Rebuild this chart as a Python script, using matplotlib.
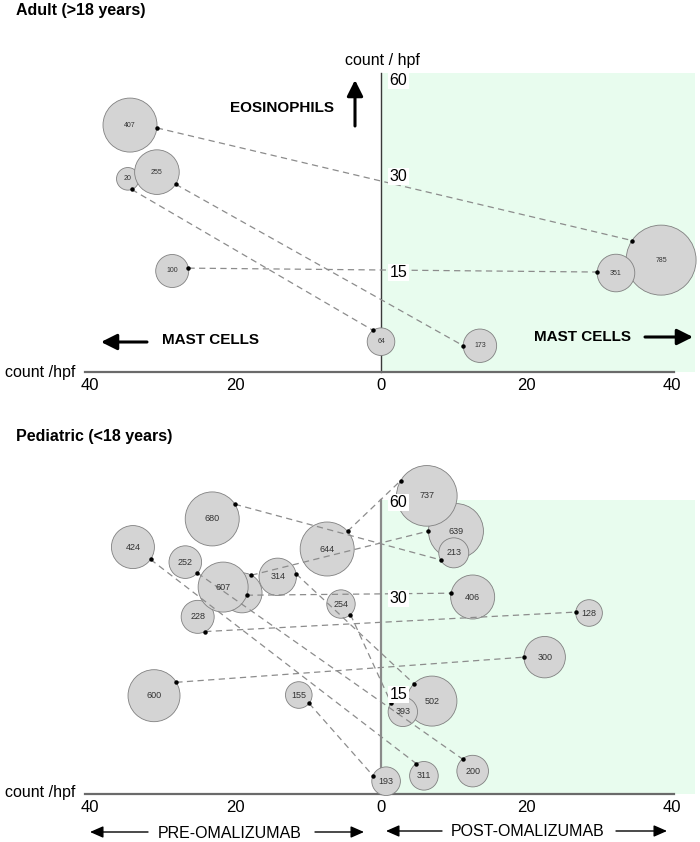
import numpy as np
import matplotlib
matplotlib.use('Agg')
import matplotlib.pyplot as plt

plt.rcParams['font.family'] = ['Liberation Sans', 'DejaVu Sans']

# ---- data: each patient = one pre bubble (left) linked to one post bubble (right)
# mast cells / hpf (x), eosinophils / hpf (y), number printed in the bubble
adult_pre_label = [407, 20, 255, 100]
adult_pre_mast = [34.5, 34.8, 30.8, 28.7]
adult_pre_eos = [45.6, 29.4, 30.9, 15.0]
adult_post_label = [785, 64, 173, 351]
adult_post_mast = [38.5, 0.0, 13.6, 32.3]
adult_post_eos = [16.7, 4.5, 3.9, 14.7]

ped_pre_label = [None, 228, 607, 644, 680, 314, 254, 424, 252, 600, 155]
ped_pre_mast = [19.1, 25.2, 21.7, 7.4, 23.2, 14.2, 5.5, 34.1, 26.9, 31.2, 11.3]
ped_pre_eos = [31.3, 26.9, 33.1, 45.0, 54.4, 36.3, 28.9, 45.6, 40.9, 14.6, 14.7]
ped_post_label = [639, 128, 406, 737, 213, 502, 393, 311, 200, 300, 193]
ped_post_mast = [10.3, 28.6, 12.6, 6.3, 10.0, 7.0, 3.0, 5.9, 12.6, 22.5, 0.7]
ped_post_eos = [50.6, 27.5, 30.0, 61.6, 43.8, 13.8, 12.2, 2.7, 3.4, 20.6, 1.9]

# bubble radius (px) and where on the rim the link line starts (deg)
adult_pre_r = [27, 11.3, 22.3, 16.5]
adult_post_r = [35, 13.8, 16.7, 18.8]
adult_pre_ang = [-6, -70, -33, 10]
adult_post_ang = [146, 125, 180, 177]
ped_pre_r = [20, 16.5, 25, 27, 27, 18.7, 14.2, 21.5, 16.3, 26, 13.3]
ped_post_r = [27.5, 13.3, 22, 30.3, 15, 25, 14.7, 14.3, 15.8, 20.7, 14.3]
ped_pre_ang = [62, -63, -19, 41, 33, 9, -48, -35, -42, 31, -39]
ped_post_ang = [180, 176, 170, 150, 208, 136, 143, 122, 130, 180, 157]

# ---- layout
W, H = 700, 842
X0, PX_PER = 381, 7.275          # pixel of x=0, pixels per count
Y_KNOTS = [-15, 0, 15, 30, 60, 120]
P_KNOTS = [-101, 0, 101, 197, 293, 485]


def fwd(y):
    return np.interp(y, Y_KNOTS, P_KNOTS)


def inv(p):
    return np.interp(p, P_KNOTS, Y_KNOTS)


def fxy(x, y):
    return (x / W, 1 - y / H)


def rim(ax, xs, ys, rs, angs):
    cen = ax.transData.transform(np.column_stack([xs, ys]))
    a = np.radians(angs)
    pts = cen + np.column_stack([np.cos(a), np.sin(a)]) * np.asarray(rs)[:, None]
    return ax.transData.inverted().transform(pts)


fig = plt.figure(figsize=(W / 100, H / 100), dpi=100)


def panel(top, bot, base, ytop, vcol, vlw, fs, pre, post):
    ax = fig.add_axes([0, 1 - bot / H, 1, (bot - top) / H])
    ax.set_yscale('function', functions=(fwd, inv))
    ax.set_xlim(-X0 / PX_PER, (W - X0) / PX_PER)
    ax.set_ylim(inv(base - bot), inv(base - top))
    ax.patch.set_alpha(0)

    for s in ['left', 'top']:
        ax.spines[s].set_visible(False)
    ax.spines['bottom'].set_position(('data', 0))
    ax.spines['bottom'].set_bounds(-40.7, 40.3)
    ax.spines['bottom'].set_color('#6a6a6a')
    ax.spines['bottom'].set_linewidth(1.6)
    ax.spines['right'].set_position(('data', 0))
    ax.spines['right'].set_bounds(0, ytop)
    ax.spines['right'].set_color(vcol)
    ax.spines['right'].set_linewidth(vlw)
    for s in ['bottom', 'right']:
        ax.spines[s].set_zorder(1.5)

    ax.set_xticks([-40, -20, 0, 20, 40])
    ax.set_xticklabels(['40', '20', '0', '20', '40'])
    ax.yaxis.tick_right()
    ax.set_yticks([15, 30, 60])
    ax.set_yticklabels(['15', '30', '60'])
    ax.tick_params(which='both', length=0)
    ax.tick_params(axis='x', labelsize=12, pad=4)
    ax.tick_params(axis='y', labelsize=11.5, pad=6)
    for t in ax.get_yticklabels():
        t.set_bbox(dict(fc='white', ec='none', pad=1))
    ax.yaxis.set_zorder(6)

    ax.fill_between([0, 43.2], 0, ytop, color='#e8fcee', lw=0, zorder=0)

    groups = []
    for sign, (lab, mx, ey, r, ang) in zip([-1, 1], [pre, post]):
        xs = sign * np.asarray(mx)
        ax.scatter(xs, ey, s=(2 * np.asarray(r) * 0.72) ** 2, c='#d4d4d4',
                   edgecolors='#808080', linewidths=0.6, zorder=2)
        for x, y, t in zip(xs, ey, lab):
            if t is not None:
                ax.text(x, y, str(t), ha='center', va='center', fontsize=fs,
                        color='#333333', zorder=5)
        groups.append(rim(ax, xs, ey, r, ang))

    for p, q in zip(*groups):
        ax.plot([p[0], q[0]], [p[1], q[1]], color='#8c8c8c', lw=0.9,
                dashes=(5, 3.5), zorder=3)
    for g in groups:
        ax.plot(g[:, 0], g[:, 1], 'o', color='black', ms=2.2, zorder=4)
    return ax


ax1 = panel(20, 400, 372, 61.8, '#3a3a3a', 1.0, 5,
            (adult_pre_label, adult_pre_mast, adult_pre_eos, adult_pre_r, adult_pre_ang),
            (adult_post_label, adult_post_mast, adult_post_eos, adult_post_r, adult_post_ang))
ax2 = panel(445, 842, 794, 60.4, '#8a8a8a', 1.6, 6.5,
            (ped_pre_label, ped_pre_mast, ped_pre_eos, ped_pre_r, ped_pre_ang),
            (ped_post_label, ped_post_mast, ped_post_eos, ped_post_r, ped_post_ang))

# ---- annotations
bold = dict(fontweight='bold', fontsize=11, ha='center', va='center')
fig.text(*fxy(16, 10), 'Adult (>18 years)', fontweight='bold', fontsize=11.5, va='center')
fig.text(*fxy(16, 437), 'Pediatric (<18 years)', fontweight='bold', fontsize=11.5, va='center')
fig.text(*fxy(382, 60), 'count / hpf', fontsize=11.5, ha='center', va='center')
fig.text(*fxy(40, 373), 'count /hpf', fontsize=11.5, ha='center', va='center')
fig.text(*fxy(40, 792), 'count /hpf', fontsize=11.5, ha='center', va='center')
fig.text(*fxy(282, 108), 'EOSINOPHILS', **bold)
fig.text(*fxy(210, 340), 'MAST CELLS', **bold)
fig.text(*fxy(583, 337), 'MAST CELLS', **bold)
fig.text(*fxy(230, 833), 'PRE-OMALIZUMAB', fontsize=11.5, ha='center', va='center')
fig.text(*fxy(528, 831), 'POST-OMALIZUMAB', fontsize=11.5, ha='center', va='center')

thick = dict(arrowstyle='-|>,head_length=0.6,head_width=0.3', lw=2.2, color='black',
             mutation_scale=16, shrinkA=0, shrinkB=0)
thin = dict(arrowstyle='-|>,head_length=0.5,head_width=0.22', lw=1.0, color='black',
            mutation_scale=16, shrinkA=0, shrinkB=0)
for tail, tip, props in [((355, 126), (355, 80), thick),
                         ((147, 342), (101, 342), thick),
                         ((645, 337), (693, 337), thick),
                         ((148, 832), (90, 832), thin),
                         ((315, 832), (364, 832), thin),
                         ((442, 831), (386, 831), thin),
                         ((616, 831), (667, 831), thin)]:
    ax1.annotate('', xy=fxy(*tip), xytext=fxy(*tail), xycoords='figure fraction',
                 textcoords='figure fraction', arrowprops=props)

fig.savefig('out.png', dpi=100)
